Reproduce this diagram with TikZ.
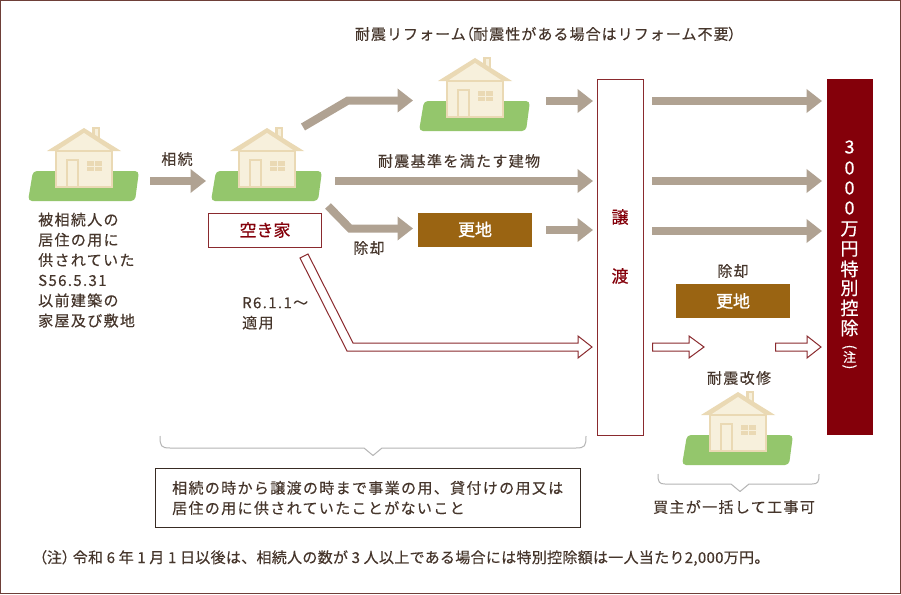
\documentclass[tikz,border=0pt]{standalone}
\usepackage{fontspec}
\setmainfont{Noto Sans CJK JP}
\usetikzlibrary{arrows.meta}
\definecolor{txt}{HTML}{46362C}
\definecolor{taupe}{HTML}{B0A292}
\definecolor{dred}{HTML}{8A2A2E}
\definecolor{maroon}{HTML}{84000A}
\definecolor{brownbox}{HTML}{9A6412}
\definecolor{grass}{HTML}{94C66C}
\definecolor{hbody}{HTML}{F7F0DC}
\definecolor{hline}{HTML}{EAD9B4}
\definecolor{brace}{HTML}{B5B5B5}
\definecolor{frame}{HTML}{6E3F38}
\newcommand{\tightparen}[1]{{\addfontfeature{RawFeature=+palt}#1}}
\tikzset{
  x=1pt,y=-1pt,
  thick arrow/.style={draw=taupe,line width=8pt,line join=miter,-{Triangle[length=15.5pt,width=23pt]}},
  lbl/.style={text=txt,font=\fontsize{15}{20.2}\selectfont\addfontfeature{LetterSpace=9,FakeBold=0.3},inner sep=0pt,align=left},
  boxbrown/.style={fill=brownbox,text=white,minimum width=114pt,minimum height=34pt,inner sep=0pt,font=\fontsize{17}{20}\selectfont\addfontfeature{FakeBold=1.2}},
  hollow/.style={draw=dred,fill=white,line width=1pt,line join=miter},
  bracel/.style={draw=brace,line width=1pt,line join=round},
  coltext/.style={text=white,inner sep=0pt,font=\fontsize{18}{20}\selectfont\addfontfeature{FakeBold=0.5}},
  colsmall/.style={text=white,inner sep=0pt,font=\fontsize{14}{16}\selectfont\addfontfeature{FakeBold=0.5}},
  redtext/.style={text=maroon,inner sep=0pt,font=\fontsize{17}{20}\selectfont\addfontfeature{FakeBold=0.5}},
}
\newcommand{\house}[2]{%
  \begin{scope}[shift={(#1,#2)}]
    \fill[grass,rounded corners=4pt] (33,171) -- (139,171) -- (135,201) -- (28,201) -- cycle;
    \fill[hline] (92,127) rectangle (100,142);
    \fill[hbody] (95,129) rectangle (98,142);
    \fill[hline] (84,128) -- (121,151) -- (47,151) -- cycle;
    \fill[hbody] (84,133) -- (110,150) -- (58,150) -- cycle;
    \fill[hbody,draw=hline,line width=1.6pt] (55.8,151) rectangle (112.2,187.2);
    \fill[hbody,draw=hline,line width=1.8pt] (67,160) rectangle (78,187);
    \fill[hline] (87,161) rectangle (102,171);
    \draw[hbody,line width=.8pt] (94.5,161) -- (94.5,171) (87,166) -- (102,166);
  \end{scope}}
\begin{document}
\begin{tikzpicture}
\useasboundingbox (0,0) rectangle (901,594);
\fill[white] (0,0) rectangle (901,594);
\draw[draw=frame,line width=1pt] (.5,.5) rectangle (900.5,593.5);

\house{0}{0}
\house{183}{0}
\house{391}{-70}
\house{654}{264}

\coordinate (a1s) at (150,181); \coordinate (a1e) at (206,181);
\draw[thick arrow] (a1s) -- (a1e);
\coordinate (a2s) at (303,127); \coordinate (a2b) at (348,100.5); \coordinate (a2e) at (413,100.5);
\draw[thick arrow] (a2s) -- (a2b) -- (a2e);
\coordinate (a3s) at (546,101); \coordinate (a3e) at (593,101);
\draw[thick arrow] (a3s) -- (a3e);
\coordinate (a4s) at (335,181); \coordinate (a4e) at (593,181);
\draw[thick arrow] (a4s) -- (a4e);
\coordinate (a5s) at (328,206); \coordinate (a5b) at (350,228.5); \coordinate (a5e) at (413,228.5);
\draw[thick arrow] (a5s) -- (a5b) -- (a5e);
\coordinate (a6s) at (546,230); \coordinate (a6e) at (593,230);
\draw[thick arrow] (a6s) -- (a6e);
\coordinate (a7s) at (652,101); \coordinate (a7e) at (822,101);
\draw[thick arrow] (a7s) -- (a7e);
\coordinate (a8s) at (652,181); \coordinate (a8e) at (822,181);
\draw[thick arrow] (a8s) -- (a8e);
\coordinate (a9s) at (652,231); \coordinate (a9e) at (822,231);
\draw[thick arrow] (a9s) -- (a9e);

% hollow arrows
\draw[hollow] (300,258) -- (308,254) -- (353,343) -- (578,343) -- (578,336) -- (592,347) -- (578,358) -- (578,351) -- (347,351) -- cycle;
\draw[hollow] (652.5,343) -- (689,343) -- (689,336) -- (704,347) -- (689,358) -- (689,351) -- (652.5,351) -- cycle;
\draw[hollow] (775.5,343) -- (807,343) -- (807,336) -- (821,347) -- (807,358) -- (807,351) -- (775.5,351) -- cycle;

% boxes
\node[draw=dred,line width=1pt,fill=white,minimum width=113pt,minimum height=34pt,inner sep=0pt,text=maroon,font=\fontsize{17}{20}\selectfont\addfontfeature{FakeBold=0.5}] (akiya) at (265,230) {空き家};
\node[boxbrown] (sara1) at (475,229.5) {更地};
\node[boxbrown] (sara2) at (733,301) {更地};
\node[draw=dred,line width=1pt,fill=white,minimum width=46pt,minimum height=356pt,inner sep=0pt] (joto) at (620,257) {};
\node[redtext] (jo) at (620,217) {譲};
\node[redtext] (to) at (620,276) {渡};
\node[fill=maroon,minimum width=46pt,minimum height=356pt,inner sep=0pt] (toku) at (850,257) {};
\foreach \c/\y in {3/147,0/168,0/188,0/208,万/229,円/249,特/269,別/288,控/308,除/328}{\node[coltext] at (849.5,\y) {\c};}
\node[colsmall,font=\fontsize{13}{16}\selectfont\addfontfeature{FakeBold=0.5}] (chu) at (849.5,357) {注};
\node[colsmall,rotate=-90] (chuo) at (849.5,347) {(};
\node[colsmall,rotate=-90] (chuc) at (849.5,367) {)};

% labels
\node[lbl] (l1) at (177,159) {相続};
\node[lbl,font=\fontsize{15}{20.2}\selectfont\addfontfeature{LetterSpace=7,FakeBold=0.3}] (l2) at (545.5,34) {耐震リフォーム\tightparen{（}耐震性がある場合はリフォーム不要\tightparen{）}};
\node[lbl] (l3) at (459,161) {耐震基準を満たす建物};
\node[lbl] (l4) at (369,248) {除却};
\node[lbl,anchor=north west] (l5) at (242,297) {R6.1.1〜\\適用};
\node[lbl,anchor=north west] (l6) at (38,212.5) {被相続人の\\居住の用に\\供されていた\\S56.5.31\\以前建築の\\家屋及び敷地};
\node[lbl] (l7) at (733,271) {除却};
\node[lbl] (l8) at (739,378) {耐震改修};
\node[lbl] (l9) at (734,507) {買主が一括して工事可};
\node[lbl,anchor=west,font=\fontsize{15}{20}\selectfont\addfontfeature{LetterSpace=2,FakeBold=0.3}] (l10) at (39,558) {\tightparen{（注）}\hspace{3pt}令和 6 年 1 月 1 日以後は、相続人の数が 3 人以上である場合には特別控除額は一人当たり2,000万円。};
\node[draw=txt!80!black,line width=1pt,fill=white,minimum width=425pt,minimum height=59pt,inner sep=0pt] (cond) at (367.5,497.5) {};
\node[lbl,anchor=west] (l11) at (172,498) {相続の時から譲渡の時まで事業の用、貸付けの用又は\\居住の用に供されていたことがないこと};

% braces
\draw[bracel] (160,436) .. controls (160,446) and (161,448) .. (170,448) -- (364,448) -- (373,455.5) -- (382,448) -- (576,448) .. controls (585,448) and (586,446) .. (586,436);
\draw[bracel] (658,474) .. controls (658,482) and (659,484) .. (665,484) -- (731,484) -- (740,491.5) -- (749,484) -- (812,484) .. controls (818,484) and (819,482) .. (819,474);
\end{tikzpicture}
\end{document}
